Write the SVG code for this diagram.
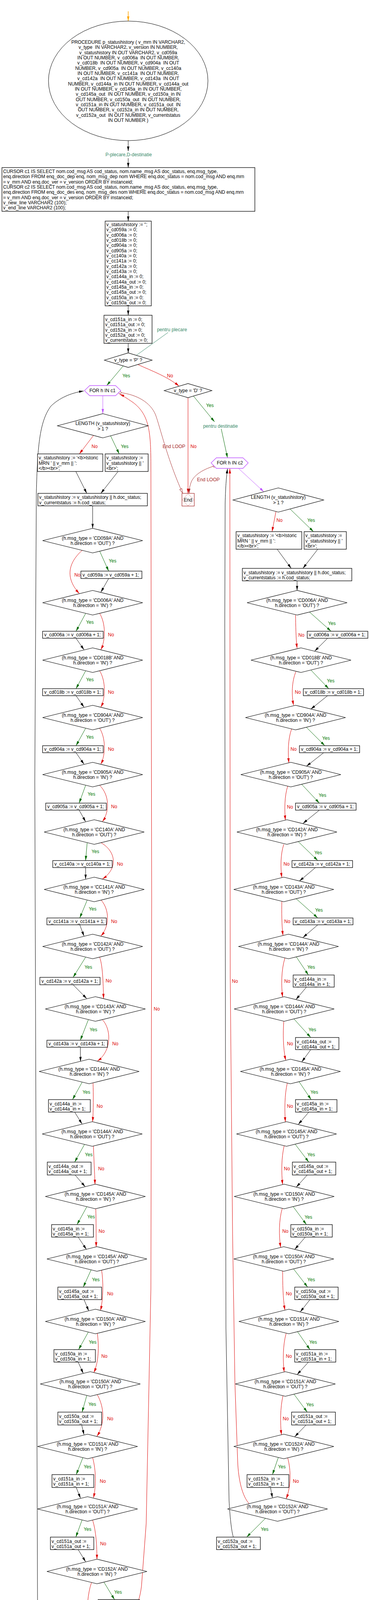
<svg xmlns="http://www.w3.org/2000/svg" width="944" height="4302" viewBox="0 0 944 4302">
<style>
text{font-family:"Liberation Sans",Arial,sans-serif;font-size:12px;fill:#000}
.m{text-anchor:middle}
.ty{fill:#007800}.tn{fill:#dd0000}.tc{fill:#3a8a6a}.te{fill:#a52a2a}
.box{fill:#fff;stroke:#000;stroke-width:1.3}
.dia{fill:#fff;stroke:#000;stroke-width:1.2}
.hex{fill:#fff;stroke:#bf55ff;stroke-width:1.3}
.e{fill:none;stroke-width:1}
.k{stroke:#000}.g{stroke:#006800}.r{stroke:#dd0000}.p{stroke:#bf55ff}.o{stroke:#ffa500;stroke-width:1.5}.d{stroke:#a52a2a}.c{stroke:#3a8a6a}
.k{marker-end:url(#ak)}.g{marker-end:url(#ag)}.r{marker-end:url(#ar)}.p{marker-end:url(#ap)}.o{marker-end:url(#ao)}
</style>
<defs>
<marker id="ak" viewBox="0 0 12 6" refX="12" refY="3" markerWidth="12" markerHeight="6" markerUnits="userSpaceOnUse" orient="auto"><path d="M0,0L12,3L0,6z" fill="#000"/></marker>
<marker id="ag" viewBox="0 0 12 6" refX="12" refY="3" markerWidth="12" markerHeight="6" markerUnits="userSpaceOnUse" orient="auto"><path d="M0,0L12,3L0,6z" fill="#006800"/></marker>
<marker id="ar" viewBox="0 0 12 6" refX="12" refY="3" markerWidth="12" markerHeight="6" markerUnits="userSpaceOnUse" orient="auto"><path d="M0,0L12,3L0,6z" fill="#dd0000"/></marker>
<marker id="ap" viewBox="0 0 12 6" refX="12" refY="3" markerWidth="12" markerHeight="6" markerUnits="userSpaceOnUse" orient="auto"><path d="M0,0L12,3L0,6z" fill="#bf55ff"/></marker>
<marker id="ao" viewBox="0 0 12 6" refX="12" refY="3" markerWidth="12" markerHeight="6" markerUnits="userSpaceOnUse" orient="auto"><path d="M0,0L12,3L0,6z" fill="#ffa500"/></marker>
<marker id="ad" viewBox="0 0 12 6" refX="12" refY="3" markerWidth="12" markerHeight="6" markerUnits="userSpaceOnUse" orient="auto"><path d="M0,0L12,3L0,6z" fill="#a52a2a"/></marker>
<marker id="adopen" viewBox="0 0 13 8" refX="12" refY="4" markerWidth="13" markerHeight="8" markerUnits="userSpaceOnUse" orient="auto"><path d="M1,1L12,4L1,7z" fill="#fff" stroke="#a52a2a"/></marker>
<marker id="cs" viewBox="0 0 8 8" refX="4" refY="4" markerWidth="8" markerHeight="8" markerUnits="userSpaceOnUse"><circle cx="4" cy="4" r="3" fill="#fff" stroke="#a52a2a"/></marker>
</defs>
<rect width="944" height="4302" fill="#fff"/>
<g id="connectors">
<path class="e o" d="M328,29 L328,54"/>
<path class="e k" d="M328,360 L328,387"/>
<path class="e k" d="M328,405 L328,429"/>
<path class="e k" d="M328,541 L328,566"/>
<path class="e k" d="M328,783 L328,807"/>
<path class="e k" d="M328,879 L328,903.5"/>
<path class="e c" d="M430,851 L349,909.5" style="marker-end:none"/>
<path class="e g" d="M315,937 L273,987"/>
<path class="e r" d="M352,933 C390,950 430,965 458,988.5"/>
<path class="e g" d="M495,1014 L549,1080"/>
<path class="e g" d="M566,1098 L582,1172"/>
<path class="e r" d="M481,1018 L481,1263"/>
<path class="e d" d="M307,1005 C350,1010 385,1030 398,1062 C410,1095 428,1175 467,1262" marker-start="url(#cs)" marker-end="url(#adopen)"/>
<path class="e d" d="M548,1193 C525,1200 500,1212 490,1232 C485,1245 484,1252 484,1263" marker-start="url(#cs)" marker-end="url(#ad)"/>
<path class="e p" d="M263,1013 L263,1059"/>
<path class="e p" d="M610,1199 L675,1259"/>
<path class="e r" d="M239,1115 L203,1162"/>
<path class="e g" d="M283,1116 L305,1162"/>
<path class="e k" d="M194,1207 L222,1263"/>
<path class="e k" d="M302,1207 L258,1263"/>
<path class="e k" d="M237,1295 L237,1352.5"/>
<path class="e r" d="M706,1309.5 L696,1361"/>
<path class="e g" d="M742,1303 L802,1361"/>
<path class="e k" d="M709,1406 L745,1455"/>
<path class="e k" d="M813,1406 L775,1455"/>
<path class="e k" d="M760,1487 L760,1511.5"/>
<path class="e g" d="M255,1411 L278,1462"/><path class="e k" d="M278,1481 L258,1516"/><path class="e r" d="M210,1409 C170,1445 170,1484 203,1519.5"/>
<path class="e g" d="M219,1570.5 L194.5,1616"/><path class="e k" d="M194.5,1634 L215,1663.5"/><path class="e r" d="M255,1570.5 C270.5,1595.5 270.5,1638.25 258,1663.25"/>
<path class="e g" d="M219,1717.5 L194.5,1763"/><path class="e k" d="M194.5,1781 L215,1810.5"/><path class="e r" d="M255,1717.5 C270.5,1742.5 270.5,1785.25 258,1810.25"/>
<path class="e g" d="M219,1864.5 L194.5,1909"/><path class="e k" d="M194.5,1927 L215,1956.5"/><path class="e r" d="M255,1864.5 C270.5,1889.5 270.5,1931.25 258,1956.25"/>
<path class="e g" d="M219,2010.5 L202.5,2056"/><path class="e k" d="M202.5,2074 L219,2103.5"/><path class="e r" d="M255,2010.5 C280.5,2035.5 280.5,2078.25 262,2103.25"/>
<path class="e g" d="M223,2157.5 L219,2203"/><path class="e k" d="M219,2221 L219,2250.5"/><path class="e r" d="M259,2157.5 C299.8,2182.5 299.8,2225.25 262,2250.25"/>
<path class="e g" d="M223,2304.5 L204,2350"/><path class="e k" d="M204,2367.5 L215,2396.5"/><path class="e r" d="M259,2304.5 C280.5,2329.5 280.5,2371.25 258,2396.25"/>
<path class="e g" d="M219,2450.5 L187,2502"/><path class="e k" d="M187,2521 L222,2556.5"/><path class="e r" d="M255,2450.5 C264,2475.5 264,2531.25 265,2556.25"/>
<path class="e g" d="M226,2610.5 L205.5,2663"/><path class="e k" d="M205.5,2681 L206,2717.5"/><path class="e r" d="M262,2610.5 C285.5,2635.5 285.5,2691.25 249,2716.5"/>
<path class="e g" d="M210,2770.5 L185.5,2815"/><path class="e k" d="M191,2847 L210,2877.5"/><path class="e r" d="M238,2772.5 C239,2800 239,2845 237,2871.5"/>
<path class="e g" d="M216,2930 L191,2975"/><path class="e k" d="M192,3008 L218,3038"/><path class="e r" d="M239,2934 C240,2965 242,3000 243,3032"/>
<path class="e g" d="M222,3089.5 L197,3135"/><path class="e k" d="M200,3167 L221,3198.5"/><path class="e r" d="M245,3094.5 C246,3125 246,3165 246,3192"/>
<path class="e g" d="M233,3251 L213,3295"/><path class="e k" d="M215,3327 L227,3356"/><path class="e r" d="M260,3252 C264.5,3280 264.5,3325 257,3355"/>
<path class="e g" d="M226,3410 L201,3455"/><path class="e k" d="M200,3487 L213,3516"/><path class="e r" d="M249,3413.5 C253.2,3445 253.2,3485 240,3514"/>
<path class="e g" d="M222,3572.5 L210,3615"/><path class="e k" d="M209,3648 L215,3673"/><path class="e r" d="M249,3570.5 C267.9,3605 267.9,3645 248,3677"/>
<path class="e g" d="M212,3731.5 L195,3775"/><path class="e k" d="M195,3808 L206,3835.5"/><path class="e r" d="M237,3731.5 C246,3765 246,3805 239,3834.5"/>
<path class="e g" d="M210,3891 L194,3935"/><path class="e k" d="M200,3967 L219,3998"/><path class="e r" d="M237,3891.5 C246,3920 248,3960 248,3991.5"/>
<path class="e g" d="M266,4050.5 L293,4095"/><path class="e k" d="M286,4127 L258,4159"/><path class="e r" d="M234,4051.5 C224,4080 222,4120 223,4152"/>
<path class="e g" d="M197,4207.5 L147,4255"/>
<path class="e k" d="M112,4255 C102,4230 97,4190 96,4100 L89,2000 L93,1260 C96,1150 100,1080 130,1040 C150,1020 180,1006 214,1001"/>
<path class="e r" d="M297,4169 C330,4150 355,4120 362,4060 L374,3900 L386,3300 L388,2300 L386,1190 C386,1100 380,1060 340,1030 C325,1020 315,1013 306,1009"/>
<path class="e g" d="M792,1567 L847,1616"/><path class="e k" d="M838,1634 L805,1667"/><path class="e r" d="M756,1574.5 C756.7,1600 756.7,1632 760,1659.5"/>
<path class="e g" d="M796,1716 L841,1763"/><path class="e k" d="M838,1781 L795,1815.5"/><path class="e r" d="M757,1719.5 C746,1745.5 746,1779.5 751,1805.5"/>
<path class="e g" d="M784,1862 L831,1909"/><path class="e k" d="M828,1927 L784,1961.5"/><path class="e r" d="M746,1866 C736.5,1892.5 736.5,1926.5 739,1953"/>
<path class="e g" d="M772,2008 L817,2056"/><path class="e k" d="M817,2074 L775,2108"/><path class="e r" d="M736,2012.5 C727.7,2038.5 727.7,2072.5 730,2099.5"/>
<path class="e g" d="M763,2154.5 L813,2203"/><path class="e k" d="M807,2221 L766,2255.5"/><path class="e r" d="M726,2161.5 C717.5,2187 717.5,2221 721,2246.5"/>
<path class="e g" d="M758,2301 L813,2350"/><path class="e k" d="M813,2367.5 L775,2400"/><path class="e r" d="M721,2307.5 C720.5,2334 720.5,2368 724,2395"/>
<path class="e g" d="M758,2449.5 L789,2496"/><path class="e k" d="M784,2527 L757,2559"/><path class="e r" d="M729,2452 C719.3,2484 719.3,2523 723,2552.5"/>
<path class="e g" d="M752,2608.5 L795,2656"/><path class="e k" d="M795,2687 L772,2718.5"/><path class="e r" d="M726,2614.5 C723.9,2644 723.9,2683 731,2714.5"/>
<path class="e g" d="M765,2769 L796,2815"/><path class="e k" d="M790,2847 L763,2878.5"/><path class="e r" d="M735,2772.5 C727.9,2803 727.9,2842 730,2872"/>
<path class="e g" d="M755,2929 L790,2975"/><path class="e k" d="M786,3008 L758,3039"/><path class="e r" d="M727,2933 C719.7,2964 719.7,3002 723,3032.5"/>
<path class="e g" d="M750,3089 L784,3135"/><path class="e k" d="M781,3167 L754,3198.5"/><path class="e r" d="M722,3093.5 C713.3,3124 713.3,3163 718,3193.5"/>
<path class="e g" d="M751,3248.5 L787,3295"/><path class="e k" d="M793,3327 L768,3358.5"/><path class="e r" d="M723,3253.5 C723.3,3284 723.3,3323 729,3354"/>
<path class="e g" d="M761,3409 L793,3455"/><path class="e k" d="M789,3487 L760,3519"/><path class="e r" d="M732,3413.5 C723.5,3444 723.5,3483 727,3512.5"/>
<path class="e g" d="M752,3569 L786,3615"/><path class="e k" d="M783,3648 L754,3678"/><path class="e r" d="M724,3573 C716.7,3604 716.7,3644 720,3673"/>
<path class="e g" d="M712,3731 L697,3775"/><path class="e k" d="M692,3808 L697,3834.5"/><path class="e r" d="M736,3732 C744.7,3765 744.7,3805 732,3837"/>
<path class="e g" d="M679,3887 L631,3935"/>
<path class="e k" d="M597,3935 C592,3920 588,3880 586,3841 L578,3400 L575,1600 L576,1290 C577,1240 580,1215 582,1200"/>
<path class="e r" d="M637,3849 C620,3830 610,3790 608,3741 L601,3541 L595,3160 L589,2500 L588,1200"/>
<g class="m">
<text class="ty" x="323" y="966">Yes</text><text class="tn" x="435" y="966">No</text>
<text class="ty" x="537" y="1042">Yes</text><text class="tn" x="495" y="1147">No</text>
<text class="te" x="445" y="1147">End LOOP</text><text class="te" x="533" y="1232">End LOOP</text>
<text class="tn" x="242" y="1147">No</text><text class="ty" x="319" y="1147">Yes</text>
<text class="tn" x="715" y="1336">No</text><text class="ty" x="796" y="1336">Yes</text>
<text class="tn" x="401" y="2587">No</text><text class="tn" x="601" y="2516">No</text>
<text class="ty" x="288" y="1440">Yes</text><text class="tn" x="198" y="1476">No</text>
<text class="ty" x="230" y="1597">Yes</text><text class="tn" x="284" y="1629">No</text>
<text class="ty" x="230" y="1744">Yes</text><text class="tn" x="284" y="1776">No</text>
<text class="ty" x="230" y="1891">Yes</text><text class="tn" x="284" y="1922">No</text>
<text class="ty" x="234" y="2037">Yes</text><text class="tn" x="292" y="2069">No</text>
<text class="ty" x="244" y="2184">Yes</text><text class="tn" x="307" y="2216">No</text>
<text class="ty" x="237" y="2331">Yes</text><text class="tn" x="292" y="2363">No</text>
<text class="ty" x="226" y="2480">Yes</text><text class="tn" x="278" y="2515">No</text>
<text class="ty" x="239" y="2640">Yes</text><text class="tn" x="295" y="2676">No</text>
<text class="ty" x="221" y="2800">Yes</text><text class="tn" x="255" y="2836">No</text>
<text class="ty" x="227" y="2960">Yes</text><text class="tn" x="259" y="2996">No</text>
<text class="ty" x="233" y="3119">Yes</text><text class="tn" x="260" y="3156">No</text>
<text class="ty" x="245" y="3280">Yes</text><text class="tn" x="282" y="3316">No</text>
<text class="ty" x="237" y="3440">Yes</text><text class="tn" x="267" y="3476">No</text>
<text class="ty" x="236" y="3599">Yes</text><text class="tn" x="282" y="3636">No</text>
<text class="ty" x="224" y="3759">Yes</text><text class="tn" x="263" y="3796">No</text>
<text class="ty" x="224" y="3919">Yes</text><text class="tn" x="264" y="3956">No</text>
<text class="ty" x="302" y="4080">Yes</text><text class="tn" x="240" y="4116">No</text>
<text class="ty" x="197" y="4239">Yes</text>
<text class="ty" x="849" y="1600">Yes</text><text class="tn" x="771" y="1630">No</text>
<text class="ty" x="846" y="1747">Yes</text><text class="tn" x="762" y="1776">No</text>
<text class="ty" x="834" y="1894">Yes</text><text class="tn" x="751" y="1922">No</text>
<text class="ty" x="825" y="2040">Yes</text><text class="tn" x="742" y="2070">No</text>
<text class="ty" x="814" y="2187">Yes</text><text class="tn" x="733" y="2216">No</text>
<text class="ty" x="816" y="2334">Yes</text><text class="tn" x="735" y="2363">No</text>
<text class="ty" x="796" y="2480">Yes</text><text class="tn" x="735" y="2516">No</text>
<text class="ty" x="799" y="2640">Yes</text><text class="tn" x="742" y="2676">No</text>
<text class="ty" x="804" y="2800">Yes</text><text class="tn" x="742" y="2836">No</text>
<text class="ty" x="796" y="2960">Yes</text><text class="tn" x="734" y="2996">No</text>
<text class="ty" x="789" y="3120">Yes</text><text class="tn" x="730" y="3156">No</text>
<text class="ty" x="796" y="3280">Yes</text><text class="tn" x="739" y="3316">No</text>
<text class="ty" x="801" y="3440">Yes</text><text class="tn" x="739" y="3476">No</text>
<text class="ty" x="793" y="3600">Yes</text><text class="tn" x="731" y="3636">No</text>
<text class="ty" x="721" y="3759">Yes</text><text class="tn" x="757" y="3796">No</text>
<text class="ty" x="677" y="3919">Yes</text>
</g>
</g>
<g id="n_proc">
<ellipse cx="328" cy="207" rx="204" ry="153" fill="#fff" stroke="#000" stroke-width="1"/>
<g class="m">
<text x="328" y="112">PROCEDURE p_statushistory ( v_mrn IN VARCHAR2,</text>
<text x="328" y="125.3" xml:space="preserve">v_type  IN VARCHAR2, v_version IN NUMBER,</text>
<text x="328" y="138.7">v_statushistory IN OUT VARCHAR2, v_cd059a</text>
<text x="328" y="152" xml:space="preserve">IN OUT NUMBER, v_cd006a  IN OUT NUMBER,</text>
<text x="328" y="165.3" xml:space="preserve">v_cd018b  IN OUT NUMBER, v_cd904a  IN OUT</text>
<text x="328" y="178.7" xml:space="preserve">NUMBER, v_cd905a  IN OUT NUMBER, v_cc140a</text>
<text x="328" y="192" xml:space="preserve">IN OUT NUMBER, v_cc141a  IN OUT NUMBER,</text>
<text x="328" y="205.3" xml:space="preserve">v_cd142a  IN OUT NUMBER, v_cd143a  IN OUT</text>
<text x="328" y="218.7">NUMBER, v_cd144a_in IN OUT NUMBER, v_cd144a_out</text>
<text x="328" y="232">IN OUT NUMBER, v_cd145a_in IN OUT NUMBER,</text>
<text x="328" y="245.3" xml:space="preserve">v_cd145a_out  IN OUT NUMBER, v_cd150a_in IN</text>
<text x="328" y="258.7" xml:space="preserve">OUT NUMBER, v_cd150a_out  IN OUT NUMBER,</text>
<text x="328" y="272" xml:space="preserve">v_cd151a_in IN OUT NUMBER, v_cd151a_out  IN</text>
<text x="328" y="285.3">OUT NUMBER, v_cd152a_in IN OUT NUMBER,</text>
<text x="328" y="298.7" xml:space="preserve">v_cd152a_out  IN OUT NUMBER, v_currentstatus</text>
<text x="328" y="312">IN OUT NUMBER )</text>
</g>
</g>
<g id="n_pd"><text class="m tc" x="329" y="400">P-plecare,D-destinatie</text></g>
<g id="n_cursor">
<rect class="box" x="5" y="429" width="647" height="112"/>
<text x="8" y="443">CURSOR c1 IS SELECT nom.cod_msg AS cod_status, nom.name_msg AS doc_status, enq.msg_type,</text>
<text x="8" y="456.3">enq.direction FROM enq_doc_dep enq, nom_msg_dep nom WHERE enq.doc_status = nom.cod_msg AND enq.mrn</text>
<text x="8" y="469.7">= v_mrn AND enq.doc_ver = v_version ORDER BY instanceid;</text>
<text x="8" y="483">CURSOR c2 IS SELECT nom.cod_msg AS cod_status, nom.name_msg AS doc_status, enq.msg_type,</text>
<text x="8" y="496.3">enq.direction FROM enq_doc_des enq, nom_msg_des nom WHERE enq.doc_status = nom.cod_msg AND enq.mrn</text>
<text x="8" y="509.7">= v_mrn AND enq.doc_ver = v_version ORDER BY instanceid;</text>
<text x="8" y="523">v_new_line VARCHAR2 (100);</text>
<text x="8" y="536.3">v_end_line VARCHAR2 (100);</text>
</g>
<g id="n_init1">
<rect class="box" x="269" y="566" width="118" height="217"/>
<text x="272" y="579">v_statushistory := '';</text>
<text x="272" y="592.3">v_cd059a := 0;</text>
<text x="272" y="605.7">v_cd006a := 0;</text>
<text x="272" y="619">v_cd018b := 0;</text>
<text x="272" y="632.3">v_cd904a := 0;</text>
<text x="272" y="645.7">v_cd905a := 0;</text>
<text x="272" y="659">v_cc140a := 0;</text>
<text x="272" y="672.3">v_cc141a := 0;</text>
<text x="272" y="685.7">v_cd142a := 0;</text>
<text x="272" y="699">v_cd143a := 0;</text>
<text x="272" y="712.3">v_cd144a_in := 0;</text>
<text x="272" y="725.7">v_cd144a_out := 0;</text>
<text x="272" y="739">v_cd145a_in := 0;</text>
<text x="272" y="752.3">v_cd145a_out := 0;</text>
<text x="272" y="765.7">v_cd150a_in := 0;</text>
<text x="272" y="779">v_cd150a_out := 0;</text>
</g>
<g id="n_init2">
<rect class="box" x="266" y="807" width="123" height="72"/>
<text x="269" y="822">v_cd151a_in := 0;</text>
<text x="269" y="835.3">v_cd151a_out := 0;</text>
<text x="269" y="848.7">v_cd152a_in := 0;</text>
<text x="269" y="862">v_cd152a_out := 0;</text>
<text x="269" y="875.3">v_currentstatus := 0;</text>
</g>
<g id="n_note_p"><text class="m tc" x="440" y="848">pentru plecare</text></g>
<g id="n_typeP"><polygon class="dia" points="267,922 328,903.5 389,922 328,940.5"/><text class="m" x="328" y="926">v_type = 'P' ?</text></g>
<g id="n_typeD"><polygon class="dia" points="420,1000 481,982 542,1000 481,1018"/><text class="m" x="481" y="1004">v_type = 'D' ?</text></g>
<g id="n_note_d"><text class="m tc" x="564" y="1095">pentru destinatie</text></g>
<g id="n_for1"><polygon class="hex" points="216,1000 229.5,987 295.5,987 309,1000 295.5,1013 229.5,1013"/><text class="m" x="262" y="1004">FOR h IN c1</text></g>
<g id="n_for2"><polygon class="hex" points="540,1185 553.5,1172 621.5,1172 635,1185 621.5,1199 553.5,1199"/><text class="m" x="588" y="1189">FOR h IN c2</text></g>
<g id="n_end"><rect x="465.5" y="1263" width="31.5" height="32.5" fill="#fff" stroke="#a52a2a" stroke-width="1.2"/><polygon points="466,1279.5 481,1264 496.5,1279.5 481,1295" fill="none" stroke="#a52a2a" stroke-width="0.8" stroke-dasharray="1.5,1"/><text class="m" x="481" y="1283.5">End</text></g>
<g id="n_len1"><polygon class="dia" points="147,1090 263,1059 379,1090 263,1121"/><text class="m" x="263" y="1088">LENGTH (v_statushistory)</text><text class="m" x="263" y="1102">&gt; 1 ?</text></g>
<g id="n_a1"><rect class="box" x="96" y="1162" width="167" height="45"/><text x="99" y="1176">v_statushistory := '&lt;b&gt;Istoric</text><text x="99" y="1189.5">MRN ' || v_mrn || ':</text><text x="99" y="1203">&lt;/b&gt;&lt;br&gt;';</text></g>
<g id="n_b1"><rect class="box" x="269" y="1162" width="110" height="45"/><text x="272" y="1176">v_statushistory :=</text><text x="272" y="1189.5">v_statushistory || '</text><text x="272" y="1203">&lt;br&gt;';</text></g>
<g id="n_m1"><rect class="box" x="97" y="1263" width="280" height="32"/><text x="100" y="1277">v_statushistory := v_statushistory || h.doc_status;</text><text x="100" y="1290.5">v_currentstatus := h.cod_status;</text></g>
<g id="n_len2"><polygon class="dia" points="596,1280 712,1249 828,1280 712,1311"/><text class="m" x="712" y="1277">LENGTH (v_statushistory)</text><text class="m" x="712" y="1291">&gt; 1 ?</text></g>
<g id="n_a2"><rect class="box" x="604" y="1361" width="168" height="45"/><text x="607" y="1375">v_statushistory := '&lt;b&gt;Istoric</text><text x="607" y="1388.5">MRN ' || v_mrn || ':</text><text x="607" y="1402">&lt;/b&gt;&lt;br&gt;';</text></g>
<g id="n_b2"><rect class="box" x="778" y="1361" width="108" height="45"/><text x="781" y="1375">v_statushistory :=</text><text x="781" y="1388.5">v_statushistory || '</text><text x="781" y="1402">&lt;br&gt;';</text></g>
<g id="n_m2"><rect class="box" x="620" y="1455" width="280" height="32"/><text x="623" y="1470">v_statushistory := v_statushistory || h.doc_status;</text><text x="623" y="1483">v_currentstatus := h.cod_status;</text></g>
<g id="L1"><polygon class="dia" points="109,1384 237,1352.5 365,1384 237,1415.5"/><text class="m" x="237" y="1382">(h.msg_type = 'CD059A' AND</text><text class="m" x="237" y="1395">h.direction = 'OUT') ?</text></g>
<g id="L1b"><rect class="box" x="207" y="1462" width="156" height="19"/><text x="211" y="1475.5">v_cd059a := v_cd059a + 1;</text></g>
<g id="L2"><polygon class="dia" points="109,1543 237,1511.5 365,1543 237,1574.5"/><text class="m" x="237" y="1541">(h.msg_type = 'CD006A' AND</text><text class="m" x="237" y="1554">h.direction = 'IN') ?</text></g>
<g id="L2b"><rect class="box" x="109" y="1616" width="155" height="18"/><text x="113" y="1629">v_cd006a := v_cd006a + 1;</text></g>
<g id="L3"><polygon class="dia" points="109,1690 237,1658.5 365,1690 237,1721.5"/><text class="m" x="237" y="1688">(h.msg_type = 'CD018B' AND</text><text class="m" x="237" y="1701">h.direction = 'IN') ?</text></g>
<g id="L3b"><rect class="box" x="109" y="1763" width="155" height="18"/><text x="113" y="1776">v_cd018b := v_cd018b + 1;</text></g>
<g id="L4"><polygon class="dia" points="109,1837 237,1805.5 365,1837 237,1868.5"/><text class="m" x="237" y="1835">(h.msg_type = 'CD904A' AND</text><text class="m" x="237" y="1848">h.direction = 'OUT') ?</text></g>
<g id="L4b"><rect class="box" x="109" y="1909" width="155" height="18"/><text x="113" y="1922">v_cd904a := v_cd904a + 1;</text></g>
<g id="L5"><polygon class="dia" points="109,1983 237,1951.5 365,1983 237,2014.5"/><text class="m" x="237" y="1981">(h.msg_type = 'CD905A' AND</text><text class="m" x="237" y="1994">h.direction = 'IN') ?</text></g>
<g id="L5b"><rect class="box" x="117" y="2056" width="155" height="18"/><text x="121" y="2069">v_cd905a := v_cd905a + 1;</text></g>
<g id="L6"><polygon class="dia" points="113,2130 241,2098.5 369,2130 241,2161.5"/><text class="m" x="241" y="2128">(h.msg_type = 'CC140A' AND</text><text class="m" x="241" y="2141">h.direction = 'OUT') ?</text></g>
<g id="L6b"><rect class="box" x="135" y="2203" width="152" height="18"/><text x="139" y="2216">v_cc140a := v_cc140a + 1;</text></g>
<g id="L7"><polygon class="dia" points="113,2277 241,2245.5 369,2277 241,2308.5"/><text class="m" x="241" y="2275">(h.msg_type = 'CC141A' AND</text><text class="m" x="241" y="2288">h.direction = 'IN') ?</text></g>
<g id="L7b"><rect class="box" x="120" y="2350" width="152" height="17.5"/><text x="124" y="2362.5">v_cc141a := v_cc141a + 1;</text></g>
<g id="L8"><polygon class="dia" points="109,2423 237,2391.5 365,2423 237,2454.5"/><text class="m" x="237" y="2421">(h.msg_type = 'CD142A' AND</text><text class="m" x="237" y="2434">h.direction = 'OUT') ?</text></g>
<g id="L8b"><rect class="box" x="102" y="2502" width="154" height="19"/><text x="106" y="2515.5">v_cd142a := v_cd142a + 1;</text></g>
<g id="L9"><polygon class="dia" points="116,2583 244,2551.5 372,2583 244,2614.5"/><text class="m" x="244" y="2581">(h.msg_type = 'CD143A' AND</text><text class="m" x="244" y="2594">h.direction = 'IN') ?</text></g>
<g id="L9b"><rect class="box" x="120" y="2663" width="155" height="18"/><text x="124" y="2676">v_cd143a := v_cd143a + 1;</text></g>
<g id="L10"><polygon class="dia" points="100,2743 228,2711.5 356,2743 228,2774.5"/><text class="m" x="228" y="2741">(h.msg_type = 'CD144A' AND</text><text class="m" x="228" y="2754">h.direction = 'IN') ?</text></g>
<g id="L10b"><rect class="box" x="124" y="2815" width="107" height="32"/><text x="127" y="2830">v_cd144a_in :=</text><text x="127" y="2843">v_cd144a_in + 1;</text></g>
<g id="L11"><polygon class="dia" points="108,2903 236,2871.5 364,2903 236,2934.5"/><text class="m" x="236" y="2901">(h.msg_type = 'CD144A' AND</text><text class="m" x="236" y="2914">h.direction = 'OUT') ?</text></g>
<g id="L11b"><rect class="box" x="121" y="2975" width="112" height="33"/><text x="124" y="2990">v_cd144a_out :=</text><text x="124" y="3003">v_cd144a_out + 1;</text></g>
<g id="L12"><polygon class="dia" points="116,3063 244,3031.5 372,3063 244,3094.5"/><text class="m" x="244" y="3061">(h.msg_type = 'CD145A' AND</text><text class="m" x="244" y="3074">h.direction = 'IN') ?</text></g>
<g id="L12b"><rect class="box" x="132" y="3135" width="107" height="32"/><text x="135" y="3150">v_cd145a_in :=</text><text x="135" y="3163">v_cd145a_in + 1;</text></g>
<g id="L13"><polygon class="dia" points="120,3223 248,3191.5 376,3223 248,3254.5"/><text class="m" x="248" y="3221">(h.msg_type = 'CD145A' AND</text><text class="m" x="248" y="3234">h.direction = 'OUT') ?</text></g>
<g id="L13b"><rect class="box" x="148" y="3295" width="112" height="32"/><text x="151" y="3310">v_cd145a_out :=</text><text x="151" y="3323">v_cd145a_out + 1;</text></g>
<g id="L14"><polygon class="dia" points="116,3383 244,3351.5 372,3383 244,3414.5"/><text class="m" x="244" y="3381">(h.msg_type = 'CD150A' AND</text><text class="m" x="244" y="3394">h.direction = 'IN') ?</text></g>
<g id="L14b"><rect class="box" x="138" y="3455" width="106" height="32"/><text x="141" y="3470">v_cd150a_in :=</text><text x="141" y="3483">v_cd150a_in + 1;</text></g>
<g id="L15"><polygon class="dia" points="103,3543 231,3511.5 359,3543 231,3574.5"/><text class="m" x="231" y="3541">(h.msg_type = 'CD150A' AND</text><text class="m" x="231" y="3554">h.direction = 'OUT') ?</text></g>
<g id="L15b"><rect class="box" x="148" y="3615" width="112" height="33"/><text x="151" y="3630">v_cd150a_out :=</text><text x="151" y="3643">v_cd150a_out + 1;</text></g>
<g id="L16"><polygon class="dia" points="96,3703 224,3671.5 352,3703 224,3734.5"/><text class="m" x="224" y="3701">(h.msg_type = 'CD151A' AND</text><text class="m" x="224" y="3714">h.direction = 'IN') ?</text></g>
<g id="L16b"><rect class="box" x="133" y="3775" width="107" height="33"/><text x="136" y="3790">v_cd151a_in :=</text><text x="136" y="3803">v_cd151a_in + 1;</text></g>
<g id="L17"><polygon class="dia" points="96,3863 224,3831.5 352,3863 224,3894.5"/><text class="m" x="224" y="3861">(h.msg_type = 'CD151A' AND</text><text class="m" x="224" y="3874">h.direction = 'OUT') ?</text></g>
<g id="L17b"><rect class="box" x="129" y="3935" width="111" height="32"/><text x="132" y="3950">v_cd151a_out :=</text><text x="132" y="3963">v_cd151a_out + 1;</text></g>
<g id="L18"><polygon class="dia" points="120,4023 248,3991.5 376,4023 248,4054.5"/><text class="m" x="248" y="4021">(h.msg_type = 'CD152A' AND</text><text class="m" x="248" y="4034">h.direction = 'IN') ?</text></g>
<g id="L18b"><rect class="box" x="251" y="4095" width="106" height="32"/><text x="254" y="4110">v_cd152a_in :=</text><text x="254" y="4123">v_cd152a_in + 1;</text></g>
<g id="L19"><polygon class="dia" points="98,4183 226,4151.5 354,4183 226,4214.5"/><text class="m" x="226" y="4181">(h.msg_type = 'CD152A' AND</text><text class="m" x="226" y="4194">h.direction = 'OUT') ?</text></g>
<g id="L19b"><rect class="box" x="70" y="4255" width="111" height="32"/><text x="73" y="4270">v_cd152a_out :=</text><text x="73" y="4283">v_cd152a_out + 1;</text></g>
<g id="R1"><polygon class="dia" points="632,1543 760,1511.5 888,1543 760,1574.5"/><text class="m" x="760" y="1541">(h.msg_type = 'CD006A' AND</text><text class="m" x="760" y="1554">h.direction = 'OUT') ?</text></g>
<g id="R1b"><rect class="box" x="786" y="1616" width="155" height="18"/><text x="790" y="1629">v_cd006a := v_cd006a + 1;</text></g>
<g id="R2"><polygon class="dia" points="642,1690 770,1658.5 898,1690 770,1721.5"/><text class="m" x="770" y="1688">(h.msg_type = 'CD018B' AND</text><text class="m" x="770" y="1701">h.direction = 'OUT') ?</text></g>
<g id="R2b"><rect class="box" x="776" y="1763" width="154" height="18"/><text x="780" y="1776">v_cd018b := v_cd018b + 1;</text></g>
<g id="R3"><polygon class="dia" points="628,1837 756,1805.5 884,1837 756,1868.5"/><text class="m" x="756" y="1835">(h.msg_type = 'CD904A' AND</text><text class="m" x="756" y="1848">h.direction = 'IN') ?</text></g>
<g id="R3b"><rect class="box" x="766" y="1909" width="154" height="18"/><text x="770" y="1922">v_cd904a := v_cd904a + 1;</text></g>
<g id="R4"><polygon class="dia" points="616,1983 744,1951.5 872,1983 744,2014.5"/><text class="m" x="744" y="1981">(h.msg_type = 'CD905A' AND</text><text class="m" x="744" y="1994">h.direction = 'OUT') ?</text></g>
<g id="R4b"><rect class="box" x="756" y="2056" width="155" height="18"/><text x="760" y="2069">v_cd905a := v_cd905a + 1;</text></g>
<g id="R5"><polygon class="dia" points="606,2130 734,2098.5 862,2130 734,2161.5"/><text class="m" x="734" y="2128">(h.msg_type = 'CD142A' AND</text><text class="m" x="734" y="2141">h.direction = 'IN') ?</text></g>
<g id="R5b"><rect class="box" x="747" y="2203" width="155" height="18"/><text x="751" y="2216">v_cd142a := v_cd142a + 1;</text></g>
<g id="R6"><polygon class="dia" points="598,2277 726,2245.5 854,2277 726,2308.5"/><text class="m" x="726" y="2275">(h.msg_type = 'CD143A' AND</text><text class="m" x="726" y="2288">h.direction = 'OUT') ?</text></g>
<g id="R6b"><rect class="box" x="750" y="2350" width="153" height="17.5"/><text x="754" y="2362.5">v_cd143a := v_cd143a + 1;</text></g>
<g id="R7"><polygon class="dia" points="610,2423 738,2391.5 866,2423 738,2454.5"/><text class="m" x="738" y="2421">(h.msg_type = 'CD144A' AND</text><text class="m" x="738" y="2434">h.direction = 'IN') ?</text></g>
<g id="R7b"><rect class="box" x="750" y="2496" width="105" height="31"/><text x="753" y="2510.5">v_cd144a_in :=</text><text x="753" y="2523.5">v_cd144a_in + 1;</text></g>
<g id="R8"><polygon class="dia" points="599,2583 727,2551.5 855,2583 727,2614.5"/><text class="m" x="727" y="2581">(h.msg_type = 'CD144A' AND</text><text class="m" x="727" y="2594">h.direction = 'OUT') ?</text></g>
<g id="R8b"><rect class="box" x="756" y="2656" width="111" height="31"/><text x="759" y="2670.5">v_cd144a_out :=</text><text x="759" y="2683.5">v_cd144a_out + 1;</text></g>
<g id="R9"><polygon class="dia" points="615,2743 743,2711.5 871,2743 743,2774.5"/><text class="m" x="743" y="2741">(h.msg_type = 'CD145A' AND</text><text class="m" x="743" y="2754">h.direction = 'IN') ?</text></g>
<g id="R9b"><rect class="box" x="756" y="2815" width="106" height="32"/><text x="759" y="2830">v_cd145a_in :=</text><text x="759" y="2843">v_cd145a_in + 1;</text></g>
<g id="R10"><polygon class="dia" points="605,2903 733,2871.5 861,2903 733,2934.5"/><text class="m" x="733" y="2901">(h.msg_type = 'CD145A' AND</text><text class="m" x="733" y="2914">h.direction = 'OUT') ?</text></g>
<g id="R10b"><rect class="box" x="748" y="2975" width="111" height="33"/><text x="751" y="2990">v_cd145a_out :=</text><text x="751" y="3003">v_cd145a_out + 1;</text></g>
<g id="R11"><polygon class="dia" points="599,3063 727,3031.5 855,3063 727,3094.5"/><text class="m" x="727" y="3061">(h.msg_type = 'CD150A' AND</text><text class="m" x="727" y="3074">h.direction = 'IN') ?</text></g>
<g id="R11b"><rect class="box" x="744" y="3135" width="106" height="32"/><text x="747" y="3150">v_cd150a_in :=</text><text x="747" y="3163">v_cd150a_in + 1;</text></g>
<g id="R12"><polygon class="dia" points="598,3223 726,3191.5 854,3223 726,3254.5"/><text class="m" x="726" y="3221">(h.msg_type = 'CD150A' AND</text><text class="m" x="726" y="3234">h.direction = 'OUT') ?</text></g>
<g id="R12b"><rect class="box" x="754" y="3295" width="111" height="32"/><text x="757" y="3310">v_cd150a_out :=</text><text x="757" y="3323">v_cd150a_out + 1;</text></g>
<g id="R13"><polygon class="dia" points="611,3383 739,3351.5 867,3383 739,3414.5"/><text class="m" x="739" y="3381">(h.msg_type = 'CD151A' AND</text><text class="m" x="739" y="3394">h.direction = 'IN') ?</text></g>
<g id="R13b"><rect class="box" x="754" y="3455" width="105" height="32"/><text x="757" y="3470">v_cd151a_in :=</text><text x="757" y="3483">v_cd151a_in + 1;</text></g>
<g id="R14"><polygon class="dia" points="602,3543 730,3511.5 858,3543 730,3574.5"/><text class="m" x="730" y="3541">(h.msg_type = 'CD151A' AND</text><text class="m" x="730" y="3554">h.direction = 'OUT') ?</text></g>
<g id="R14b"><rect class="box" x="746" y="3615" width="112" height="33"/><text x="749" y="3630">v_cd151a_out :=</text><text x="749" y="3643">v_cd151a_out + 1;</text></g>
<g id="R15"><polygon class="dia" points="598,3703 726,3671.5 854,3703 726,3734.5"/><text class="m" x="726" y="3701">(h.msg_type = 'CD152A' AND</text><text class="m" x="726" y="3714">h.direction = 'IN') ?</text></g>
<g id="R15b"><rect class="box" x="632" y="3775" width="107" height="33"/><text x="635" y="3790">v_cd152a_in :=</text><text x="635" y="3803">v_cd152a_in + 1;</text></g>
<g id="R16"><polygon class="dia" points="582,3863 710,3831.5 838,3863 710,3894.5"/><text class="m" x="710" y="3861">(h.msg_type = 'CD152A' AND</text><text class="m" x="710" y="3874">h.direction = 'OUT') ?</text></g>
<g id="R16b"><rect class="box" x="554" y="3935" width="112" height="32"/><text x="557" y="3950">v_cd152a_out :=</text><text x="557" y="3963">v_cd152a_out + 1;</text></g>
</svg>
